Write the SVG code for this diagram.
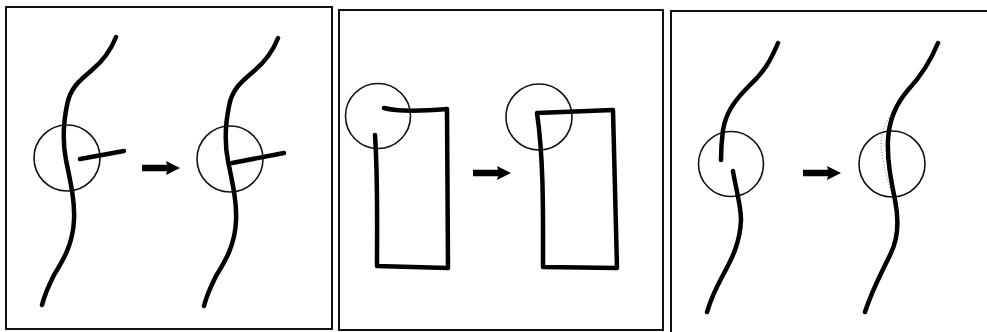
<svg xmlns="http://www.w3.org/2000/svg" width="987" height="332" viewBox="0 0 987 332">
<style>
.frame{fill:none;stroke:#111;stroke-width:2}
.stroke{fill:none;stroke:#000;stroke-width:4.5;stroke-linecap:round;stroke-linejoin:round}
.circ{fill:none;stroke:#111;stroke-width:1.6}
.ghost{fill:none;stroke:#999;stroke-width:1.2;stroke-dasharray:1 2}
</style>
<defs>
<path id="arrow" d="M0,-3.2 L25,-3.2 L24,-7 L38,0 L24,7 L25,3.2 L0,3.2 Z" fill="#000"/>
<path id="wave" d="M116,37 C111,50 104,60 92,70 C80,80 70,88 67,105 C63,125 63,145 66,160 C70,180 75,200 74,220 C73,245 62,262 54,275 C48,287 44,297 42,305"/>
</defs>
<rect width="987" height="332" fill="#fff"/>
<g id="panel1">
<rect class="frame" x="6" y="7" width="326" height="322"/>
<g id="p1-before">
<use href="#wave" class="stroke"/>
<circle class="circ" cx="67" cy="158" r="33"/>
<line class="stroke" x1="80" y1="159" x2="124" y2="151"/>
</g>
<g id="p1-after" transform="translate(162,1)">
<use href="#wave" class="stroke"/>
<circle class="circ" cx="68" cy="158" r="33"/>
<line class="stroke" x1="70" y1="162" x2="122" y2="152"/>
</g>
</g>
<g id="panel2">
<rect class="frame" x="339" y="10" width="324" height="320"/>
<g id="p2-before">
<circle class="circ" cx="378" cy="116" r="32.5"/>
<path class="stroke" d="M384,108 C395,111 410,112 447,109 L448,268 L377,266 C377,230 378,180 375,135"/>
</g>
<g id="p2-after">
<circle class="circ" cx="539" cy="117" r="33"/>
<path class="stroke" d="M543,267 C543,220 544,160 537,113 L613,110 L617,268 Z"/>
</g>
</g>
<g id="panel3">
<rect class="frame" x="671" y="11" width="330" height="330"/>
<g id="p3-before">
<circle class="circ" cx="731" cy="164" r="32.5"/>
<path class="stroke" d="M778,43 C771,60 764,72 750,85 C735,100 726,112 723,130 C721,145 721,155 721,160"/>
<path class="stroke" d="M733,171 C736,190 741,205 741,220 C740,245 730,262 722,277 C715,290 710,302 707,312"/>
</g>
<g id="p3-after">
<path class="ghost" d="M898,102 C888,118 881,130 881,145 C882,160 886,175 892,195"/>
<circle class="circ" cx="892" cy="164" r="33"/>
<path class="stroke" d="M938,43 C931,60 922,75 908,90 C895,105 889,120 888,140 C887,160 891,180 895,200 C899,220 898,240 890,255 C882,272 872,290 865,312"/>
</g>
</g>
<g id="connectors">
<use href="#arrow" x="142" y="168"/>
<use href="#arrow" x="473" y="173"/>
<use href="#arrow" x="803" y="173"/>
</g>
</svg>
